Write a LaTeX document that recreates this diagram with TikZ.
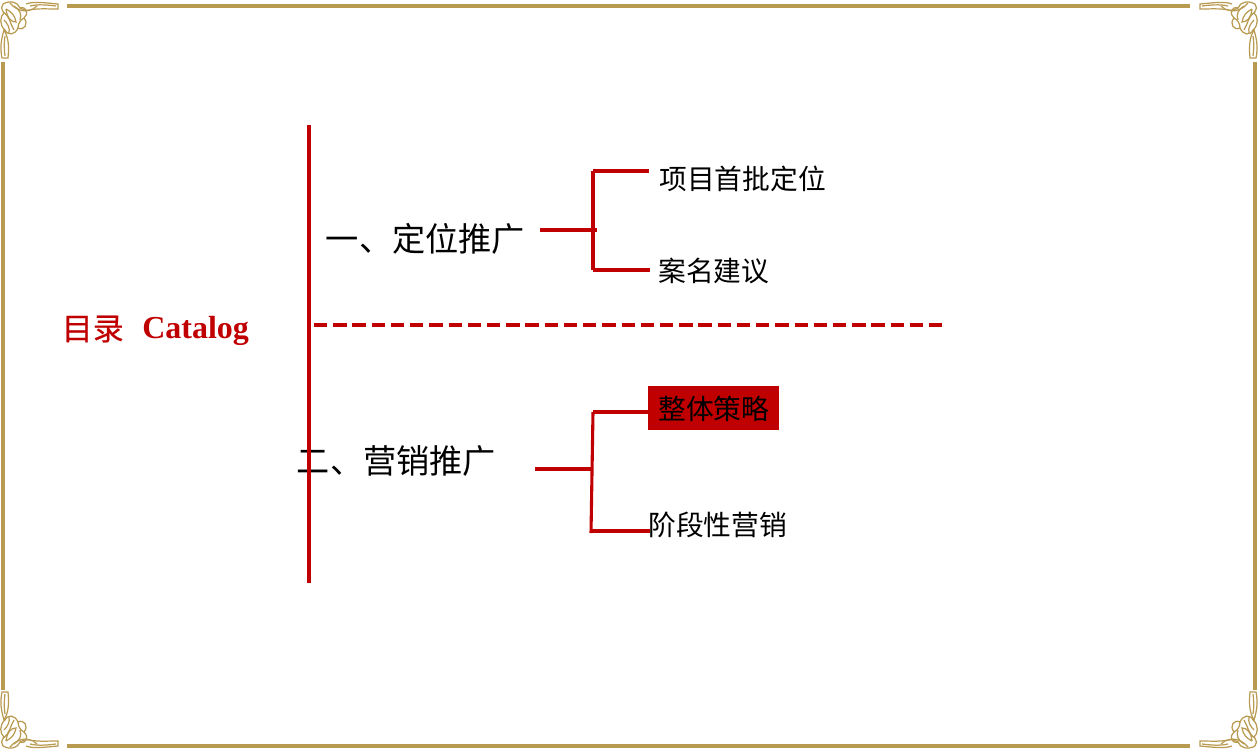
\documentclass[tikz,border=0pt]{standalone}
\usepackage{fontspec}
\setmainfont{Noto Sans CJK SC}
\newfontfamily\catfont{Liberation Serif}
\newfontfamily\titlefont[FakeBold=0.5]{Noto Sans CJK SC}
\definecolor{gold}{HTML}{B89A50}
\definecolor{darkred}{HTML}{C00000}
\newcommand{\cornerorn}{%
  \draw[orn] (26,4) .. controls (34,1) and (46,3) .. (58,4) -- (58,9) .. controls (46,9) and (34,8) .. (26,11);
  \draw[orn] (30,6) .. controls (38,4) and (48,5) .. (56,6);
  \draw[orn] (2,58) .. controls (0,48) and (1,40) .. (4,30) .. controls (9,38) and (9,48) .. (8,58) -- cycle;
  \draw[orn] (5,56) .. controls (4,48) and (4,42) .. (5,36);
  \draw[orn] (3,4) .. controls (10,0) and (18,2) .. (20,8) .. controls (27,6) and (29,14) .. (24,18) .. controls (29,24) and (24,31) .. (18,28) .. controls (15,35) and (8,36) .. (5,30) .. controls (-1,25) and (0,16) .. (4,13) .. controls (1,9) and (1,6) .. (3,4);
  \draw[orn] (6,9) .. controls (12,12) and (15,16) .. (16,22) .. controls (11,22) and (7,18) .. (6,9);
  \draw[orn] (14,6) .. controls (20,10) and (22,14) .. (20,20);
  \draw[orn] (4,20) .. controls (8,24) and (10,28) .. (9,33);
  \draw[orn] (10,3) .. controls (14,8) and (20,11) .. (26,11);
  \draw[orn] (3,12) .. controls (10,16) and (10,24) .. (14,30);
  \draw[orn] (20,8) .. controls (26,12) and (32,11) .. (37,6);
  \draw[orn] (24,18) .. controls (20,20) and (18,24) .. (18,28);
}
\begin{document}
\begin{tikzpicture}[x=0.02cm, y=-0.02cm,
  orn/.style = {gold, line width=0.7pt},
  frame/.style = {gold, line width=2.2pt},
  redline/.style = {darkred, line width=1.76pt},
  main/.style = {inner sep=0pt, font=\fontsize{18.9}{22}\selectfont},
  leaf/.style = {inner ysep=0pt, inner xsep=0pt, anchor=west, font=\fontsize{15.8}{19}\selectfont}]
  \useasboundingbox (0,0) rectangle (1260,750);
  % frame
  \draw[frame] (67,6) -- (1190,6);
  \draw[frame] (67,746) -- (1190,746);
  \draw[frame] (3,62) -- (3,690);
  \draw[frame] (1255,62) -- (1255,690);
  \begin{scope} \cornerorn \end{scope}
  \begin{scope}[shift={(1258,0)}, xscale=-1] \cornerorn \end{scope}
  \begin{scope}[shift={(0,750)}, yscale=-1] \cornerorn \end{scope}
  \begin{scope}[shift={(1258,750)}, xscale=-1, yscale=-1] \cornerorn \end{scope}
  % box behind the highlighted item
  \fill[darkred] (648,386) rectangle (779,430);
  % text
  \node[anchor=west, inner sep=0pt, text=darkred, font=\fontsize{17.6}{21}\titlefont] (title) at (61.5,329) {目录};
  \node[anchor=west, inner sep=0pt, text=darkred, font=\fontsize{18.2}{21}\catfont\bfseries] (catalog) at (142,331) {Catalog};
  \node[main] (pos) at (425.5,239) {一、定位推广};
  \node[main] (mkt) at (396.5,461) {二、营销推广};
  \node[leaf] (item1) at (659,178.5) {项目首批定位};
  \node[leaf] (item2) at (658,270.5) {案名建议};
  \node[leaf] (item3) at (658,408.5) {整体策略};
  \node[leaf] (item4) at (648,524.5) {阶段性营销};
  % lines
  \coordinate (top) at (309,125);
  \coordinate (bot) at (309,583);
  \coordinate (dash1) at (314,325);
  \coordinate (dash2) at (943,325);
  \coordinate (a0) at (540,230);
  \coordinate (a1) at (597,230);
  \coordinate (a2) at (593,171);
  \coordinate (a3) at (593,270);
  \coordinate (a4) at (649,171);
  \coordinate (a5) at (650,270);
  \coordinate (b0) at (535,469);
  \coordinate (b1) at (592,469);
  \coordinate (b2) at (593,412);
  \coordinate (b3) at (591,533);
  \coordinate (b4) at (648,412);
  \coordinate (b5) at (591,531);
  \coordinate (b6) at (650,531);
  \draw[redline] (top) -- (bot);
  \draw[redline, dash pattern=on 7.6pt off 3.34pt] (dash1) -- (dash2);
  \draw[redline] (a0) -- (a1);
  \draw[redline] (a2) -- (a3);
  \draw[redline] (a2) -- (a4);
  \draw[redline] (a3) -- (a5);
  \draw[redline] (b0) -- (b1);
  \draw[redline] (b2) -- (b3);
  \draw[redline] (b2) -- (b4);
  \draw[redline] (b5) -- (b6);
\end{tikzpicture}
\end{document}
